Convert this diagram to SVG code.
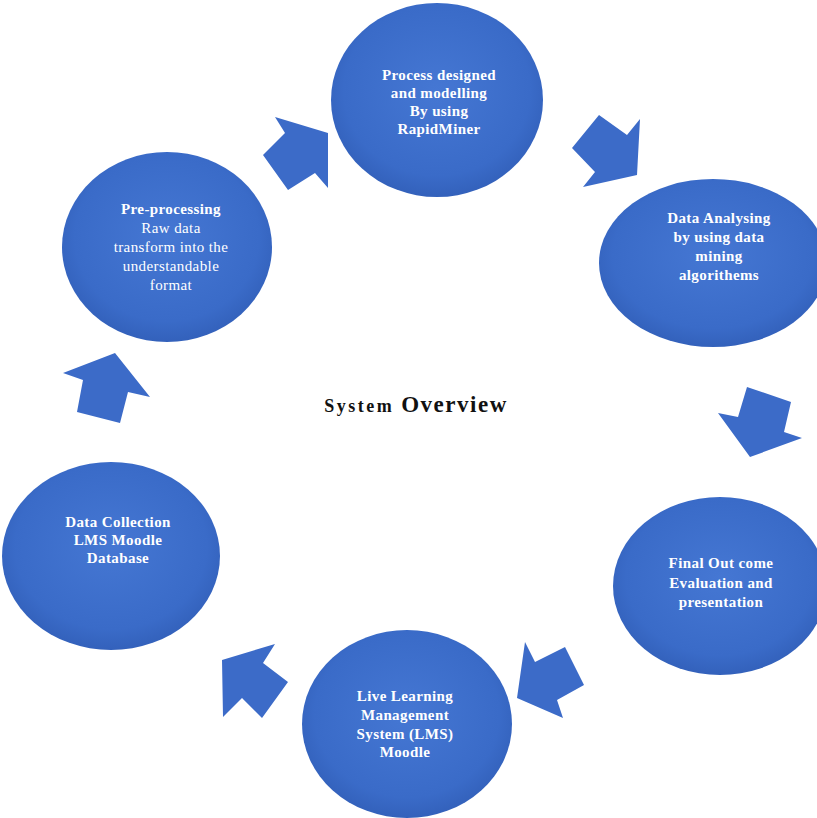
<svg xmlns="http://www.w3.org/2000/svg" width="817" height="818" viewBox="0 0 817 818">
<defs>
<radialGradient id="g" cx="50%" cy="45%" r="55%">
<stop offset="0" stop-color="#4577d3"/>
<stop offset="0.8" stop-color="#3a6bc8"/>
<stop offset="1" stop-color="#3361bb"/>
</radialGradient>
<style>
.n{fill:url(#g)}
.a{fill:#3c6bc8}
.t{font-family:"Liberation Serif","Times New Roman",serif;font-size:15px;letter-spacing:0.4px;font-weight:bold;fill:#ffffff;text-anchor:middle}
.r{font-weight:normal}
.h{font-family:"Liberation Serif","Times New Roman",serif;font-weight:bold;fill:#111111}
</style>
</defs>
<rect width="817" height="818" fill="#ffffff"/>
<g id="connectors">
<polygon class="a" points="275,117 328,133 328,188 315,173 288,190 263,155 285,133"/>
<polygon class="a" points="599,115 627,135 640,119 637,175 583,187 595,172 572,148"/>
<polygon class="a" points="747,387 791,402 784,432 802,438 750,457 718,413 738,417"/>
<polygon class="a" points="525,642 535,662 565,647 584,685 557,700 563,718 517,698"/>
<polygon class="a" points="222,660 275,644 263,663 288,682 262,718 242,698 223,717"/>
<polygon class="a" points="115,353 150,397 128,392 120,423 77,412 83,380 63,373"/>
</g>
<g id="node-process">
<ellipse class="n" cx="437" cy="100" rx="106" ry="97"/>
<text class="t"><tspan x="439" y="80">Process designed</tspan><tspan x="439" y="98">and modelling</tspan><tspan x="439" y="116">By using</tspan><tspan x="439" y="134">RapidMiner</tspan></text>
</g>
<g id="node-analysing">
<ellipse class="n" cx="713" cy="263" rx="114" ry="84"/>
<text class="t"><tspan x="719" y="223">Data Analysing</tspan><tspan x="719" y="242">by using data</tspan><tspan x="719" y="261">mining</tspan><tspan x="719" y="280">algorithems</tspan></text>
</g>
<g id="node-preprocessing">
<ellipse class="n" cx="167" cy="247" rx="105" ry="95"/>
<text class="t"><tspan x="171" y="214">Pre-processing</tspan><tspan class="r" x="171" y="233">Raw data</tspan><tspan class="r" x="171" y="252">transform into the</tspan><tspan class="r" x="171" y="271">understandable</tspan><tspan class="r" x="171" y="290">format</tspan></text>
</g>
<g id="node-collection">
<ellipse class="n" cx="111" cy="556" rx="109" ry="94"/>
<text class="t"><tspan x="118" y="527">Data Collection</tspan><tspan x="118" y="545">LMS Moodle</tspan><tspan x="118" y="563">Database</tspan></text>
</g>
<g id="node-final">
<ellipse class="n" cx="720" cy="586" rx="107" ry="89"/>
<text class="t"><tspan x="721" y="568">Final Out come</tspan><tspan x="721" y="588">Evaluation and</tspan><tspan x="721" y="607">presentation</tspan></text>
</g>
<g id="node-lms">
<ellipse class="n" cx="407" cy="724" rx="105" ry="94"/>
<text class="t"><tspan x="405" y="701">Live Learning</tspan><tspan x="405" y="720">Management</tspan><tspan x="405" y="739">System (LMS)</tspan><tspan x="405" y="757">Moodle</tspan></text>
</g>
<g id="title">
<text class="h" x="416" y="412" text-anchor="middle"><tspan font-size="18" letter-spacing="2.5">System </tspan><tspan font-size="23" letter-spacing="1.5">Overview</tspan></text>
</g>
</svg>
